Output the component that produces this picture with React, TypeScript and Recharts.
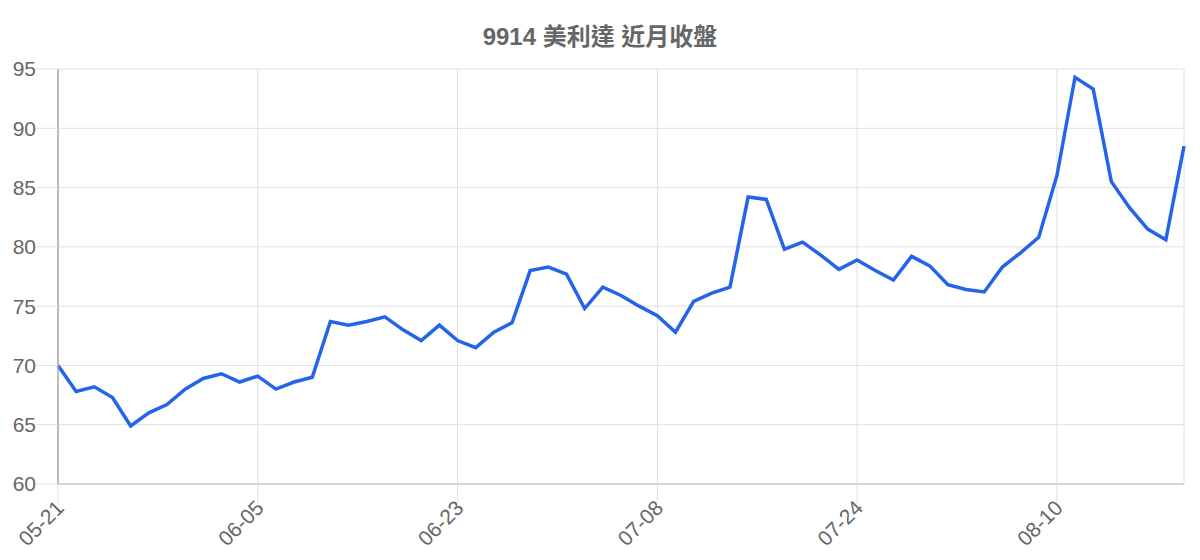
import { CartesianGrid, Line, LineChart, XAxis, YAxis } from "recharts";

const dates = [
  "05-21", "05-22", "05-23", "05-24", "05-27", "05-28", "05-29", "05-30", "05-31", "06-03", "06-04",
  "06-05", "06-06", "06-07", "06-10", "06-11", "06-12", "06-13", "06-16", "06-17", "06-18", "06-19",
  "06-23", "06-24", "06-25", "06-26", "06-27", "06-30", "07-01", "07-02", "07-03", "07-04", "07-07",
  "07-08", "07-09", "07-10", "07-11", "07-14", "07-15", "07-16", "07-17", "07-18", "07-21", "07-22",
  "07-24", "07-25", "07-28", "07-29", "07-30", "07-31", "08-01", "08-04", "08-05", "08-06", "08-07",
  "08-10", "08-11", "08-12", "08-13", "08-14", "08-17", "08-18", "08-19",
];

const closes = [
  70.0, 67.8, 68.2, 67.3, 64.9, 66.0, 66.7, 68.0, 68.9, 69.3, 68.6,
  69.1, 68.0, 68.6, 69.0, 73.7, 73.4, 73.7, 74.1, 73.0, 72.1, 73.4,
  72.1, 71.5, 72.8, 73.6, 78.0, 78.3, 77.7, 74.8, 76.6, 75.9, 75.0,
  74.2, 72.8, 75.4, 76.1, 76.6, 84.2, 84.0, 79.8, 80.4, 79.3, 78.1,
  78.9, 78.0, 77.2, 79.2, 78.4, 76.8, 76.4, 76.2, 78.3, 79.5, 80.8,
  86.0, 94.3, 93.3, 85.5, 83.3, 81.5, 80.6, 88.5,
];

const xTicks = ["05-21", "06-05", "06-23", "07-08", "07-24", "08-10"];
const yTicks = [60, 65, 70, 75, 80, 85, 90, 95];

const title = "9914 美利達 近月收盤";

const data = dates.map((d, i) => ({ date: d, close: closes[i] }));

const FONT = "'Liberation Sans', Arial, 'Noto Sans CJK TC', sans-serif";

// rotated date labels, hung off the end of the tick line
function XTick({ x, y, payload }: any) {
  const ax = x + 2;
  const ay = y + 1;
  return (
    <text
      x={ax}
      y={ay}
      transform={`rotate(-45 ${ax} ${ay})`}
      textAnchor="end"
      dy="0.35em"
      fill="#666"
      fontSize={21}
      fontFamily={FONT}
    >
      {payload.value}
    </text>
  );
}

export default function App() {
  return (
    <div style={{ position: "absolute", left: 0, top: 0, width: 1200, height: 560, background: "#fff" }}>
      <div
        style={{
          position: "absolute",
          top: 17,
          left: 0,
          width: 1200,
          textAlign: "center",
          fontFamily: FONT,
          fontWeight: "bold",
          fontSize: 24,
          color: "#666",
        }}
      >
        {title}
      </div>
      <LineChart
        width={1200}
        height={560}
        data={data}
        margin={{ top: 69, right: 16, bottom: 0, left: 0 }}
      >
        <CartesianGrid stroke="#e0e0e0" strokeWidth={1} />
        <XAxis
          dataKey="date"
          ticks={xTicks}
          interval={0}
          height={76}
          tickSize={19}
          tickMargin={0}
          tick={<XTick />}
          tickLine={{ stroke: "#e0e0e0" }}
          axisLine={{ stroke: "#cccccc", strokeWidth: 1.5 }}
        />
        <YAxis
          domain={[60, 95]}
          ticks={yTicks}
          width={58}
          tickSize={22}
          tickMargin={0}
          tick={{ fill: "#666", fontSize: 21, fontFamily: FONT }}
          tickLine={{ stroke: "#e0e0e0" }}
          axisLine={{ stroke: "#aaaaaa", strokeWidth: 1.5 }}
        />
        <Line
          dataKey="close"
          type="linear"
          stroke="#2563eb"
          strokeWidth={3.5}
          dot={false}
          isAnimationActive={false}
        />
      </LineChart>
    </div>
  );
}
